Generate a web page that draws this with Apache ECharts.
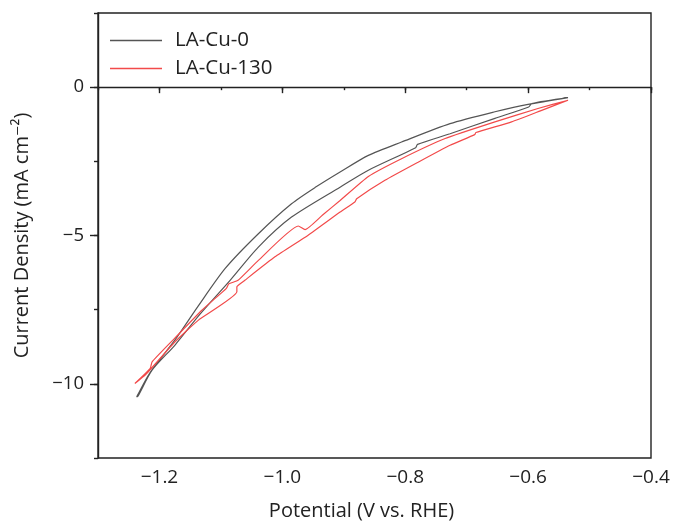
<!DOCTYPE html>
<html><head><meta charset="utf-8">
<script src="https://cdn.jsdelivr.net/npm/echarts@6/dist/echarts.min.js"></script>
<style>html,body{margin:0;padding:0;background:#fff}#c{width:676px;height:528px}</style>
</head><body><div id="c"></div>
<script>
const seriesNames = ['LA-Cu-0', 'LA-Cu-130'];
const seriesColors = ['#555555', '#f24a4a'];

// LA-Cu-0 loop: forward sweep then return sweep
const potential0 = [-0.535, -0.600, -0.654, -0.727, -0.806, -0.860, -0.906, -0.945, -0.985, -1.039, -1.093, -1.137, -1.175, -1.215, -1.237,
  -1.235, -1.212, -1.175, -1.134, -1.085, -1.039, -0.985, -0.906, -0.860, -0.783, -0.780, -0.727, -0.654, -0.599, -0.594, -0.535];
const current0 = [-0.35, -0.58, -0.83, -1.23, -1.85, -2.30, -2.86, -3.36, -3.93, -4.94, -6.11, -7.38, -8.53, -9.61, -10.44,
  -10.42, -9.54, -8.70, -7.65, -6.51, -5.39, -4.38, -3.37, -2.80, -2.04, -1.93, -1.57, -1.05, -0.67, -0.55, -0.35];

// LA-Cu-130 loop
const potential130 = [-0.535, -0.584, -0.654, -0.735, -0.806, -0.860, -0.906, -0.934, -0.963, -0.974, -1.039, -1.072, -1.087, -1.091, -1.131, -1.175, -1.212, -1.215, -1.240,
  -1.222, -1.175, -1.137, -1.074, -1.074, -1.061, -1.012, -0.958, -0.906, -0.882, -0.879, -0.833, -0.779, -0.727, -0.687, -0.685, -0.627, -0.580, -0.535];
const current130 = [-0.44, -0.72, -1.17, -1.73, -2.41, -3.01, -3.82, -4.30, -4.80, -4.68, -5.84, -6.51, -6.63, -6.78, -7.52, -8.46, -9.26, -9.48, -9.99,
  -9.68, -8.59, -7.86, -6.90, -6.73, -6.51, -5.72, -4.99, -4.21, -3.87, -3.76, -3.14, -2.53, -1.96, -1.60, -1.53, -1.17, -0.80, -0.44];

const xMajorTicks = [-1.2, -1.0, -0.8, -0.6, -0.4];
const yMajorTicks = [-10, -5, 0];

const FONT = '"Open Sans", "DejaVu Sans", sans-serif';
const TXT = '#222';
const fmtX = v => (v < 0 ? '\u2212' : '') + Math.abs(v).toFixed(1);
const fmtY = v => (v < 0 ? '\u2212' : '') + Math.abs(v).toFixed(0);

const zip = (a, b) => a.map((v, i) => [v, b[i]]);

const chart = echarts.init(document.getElementById('c'), null, {renderer: 'canvas'});
const axisLine = {show: true, lineStyle: {color: TXT, width: 1.4}};
chart.setOption({
  animation: false,
  backgroundColor: '#fff',
  grid: {left: 98, right: 25, top: 13, bottom: 70, show: true, borderColor: TXT, borderWidth: 1.4, containLabel: false},
  legend: {
    orient: 'vertical', left: 105, top: 25, itemWidth: 52, itemHeight: 1.6, itemGap: 7, icon: 'rect',
    textStyle: {fontSize: 20.5, fontFamily: FONT, color: TXT, padding: [0, 0, 0, 8]},
    data: seriesNames
  },
  xAxis: [{
    type: 'value', min: -1.3, max: -0.4, interval: 0.1, position: 'bottom',
    axisLine: axisLine, axisTick: {show: true, length: 3, lineStyle: {color: TXT, width: 1.4}},
    axisLabel: {show: false}, splitLine: {show: false},
    name: 'Potential (V vs. RHE)', nameLocation: 'middle', nameGap: 43,
    nameTextStyle: {fontSize: 20, fontFamily: FONT, color: TXT, padding: [0, 26, 0, 0]}
  }, {
    type: 'value', min: -1.3, max: -0.4, position: 'bottom',
    axisLine: {show: false},
    axisTick: {show: true, length: 6, customValues: xMajorTicks, lineStyle: {color: TXT, width: 1.4}},
    axisLabel: {show: true, customValues: xMajorTicks, formatter: fmtX, fontSize: 19, fontFamily: FONT, color: TXT, margin: 10},
    splitLine: {show: false}
  }],
  yAxis: [{
    type: 'value', min: -12.5, max: 2.5, interval: 2.5, position: 'left',
    axisLine: axisLine, axisTick: {show: true, length: 4, lineStyle: {color: TXT, width: 1.4}},
    axisLabel: {show: false}, splitLine: {show: false},
    name: 'Current Density (mA cm\u207B\u00B2)', nameLocation: 'middle', nameGap: 66,
    nameTextStyle: {fontSize: 20, fontFamily: FONT, color: TXT}
  }, {
    type: 'value', min: -12.5, max: 2.5, position: 'left',
    axisLine: {show: false},
    axisTick: {show: true, length: 8, customValues: yMajorTicks, lineStyle: {color: TXT, width: 1.4}},
    axisLabel: {show: true, customValues: yMajorTicks, formatter: fmtY, fontSize: 18.5, fontFamily: FONT, color: TXT, margin: 14},
    splitLine: {show: false}
  }],
  series: [{
    name: seriesNames[0], type: 'line', xAxisIndex: 0, yAxisIndex: 0,
    data: zip(potential0, current0), showSymbol: false, symbol: 'none', smooth: 0.25,
    color: seriesColors[0], lineStyle: {color: seriesColors[0], width: 1.2}
  }, {
    name: seriesNames[1], type: 'line', xAxisIndex: 0, yAxisIndex: 0,
    data: zip(potential130, current130), showSymbol: false, symbol: 'none', smooth: 0.15,
    color: seriesColors[1], lineStyle: {color: seriesColors[1], width: 1.2}
  }]
});
</script>
</body></html>
